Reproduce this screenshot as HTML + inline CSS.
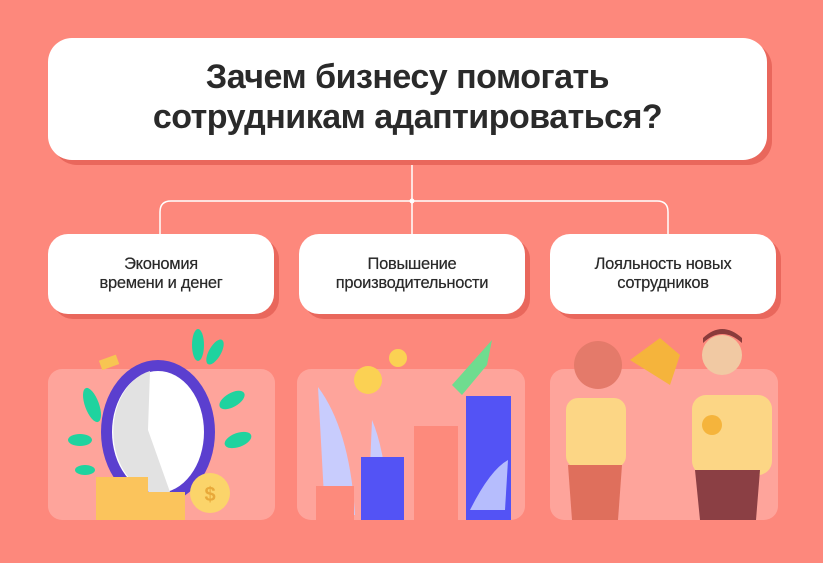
<!DOCTYPE html>
<html><head><meta charset="utf-8"><style>
body{margin:0;width:823px;height:563px;background:#fd887c;overflow:hidden;font-family:"Liberation Sans","DejaVu Sans",sans-serif;position:relative}
.box{position:absolute;background:#fff;box-shadow:5px 5px 0 #e9675c;display:flex;align-items:center;justify-content:center;text-align:center;color:#2a2a2a}
.t{left:48px;top:38px;width:719px;height:122px;border-radius:24px;font-size:34px;font-weight:bold;line-height:40px;letter-spacing:-0.5px;padding-bottom:4px;box-sizing:border-box}
.s{top:234px;height:80px;width:226px;border-radius:20px;font-size:16.5px;line-height:19px;letter-spacing:-0.3px;text-shadow:0 0 0.4px #2a2a2a}
.p{position:absolute;top:369px;height:151px;background:#fea49b;border-radius:14px}
</style></head><body>
<svg style="position:absolute;left:0;top:0" width="823" height="563">
<path d="M412 160V234M160 234V212Q160 201 171 201H657Q668 201 668 212V234" stroke="#fff" stroke-width="1.5" fill="none"/>
<circle cx="412" cy="201" r="2.5" fill="#fff"/>
</svg>
<div class="box t">Зачем бизнесу помогать<br>сотрудникам адаптироваться?</div>
<div class="box s" style="left:48px">Экономия<br>времени и денег</div>
<div class="box s" style="left:299px">Повышение<br>производительности</div>
<div class="box s" style="left:550px">Лояльность новых<br>сотрудников</div>
<div class="p" style="left:48px;width:227px"></div>
<div class="p" style="left:297px;width:228px"></div>
<div class="p" style="left:550px;width:228px"></div>
<svg style="position:absolute;left:0;top:0" width="823" height="563">
<!-- clock -->
<g fill="#1fd39f">
<ellipse cx="92" cy="405" rx="7" ry="18" transform="rotate(-20 92 405)"/>
<ellipse cx="80" cy="440" rx="12" ry="6"/>
<ellipse cx="85" cy="470" rx="10" ry="5"/>
<ellipse cx="198" cy="345" rx="6" ry="16"/>
<ellipse cx="215" cy="352" rx="6" ry="14" transform="rotate(30 215 352)"/>
<ellipse cx="232" cy="400" rx="14" ry="7" transform="rotate(-30 232 400)"/>
<ellipse cx="238" cy="440" rx="14" ry="7" transform="rotate(-20 238 440)"/>
</g>
<rect x="100" y="357" width="18" height="10" fill="#f7c552" transform="rotate(-20 110 362)"/>
<ellipse cx="158" cy="432" rx="57" ry="72" fill="#5b3fcf"/>
<ellipse cx="158" cy="432" rx="46" ry="61" fill="#fff"/>
<path d="M150 371A46 61 0 0 0 170 492L148 430Z" fill="#e2e2e2"/>
<rect x="96" y="477" width="52" height="43" fill="#fbc45c"/>
<rect x="145" y="492" width="40" height="28" fill="#fbc45c"/>
<circle cx="210" cy="493" r="20" fill="#fbd46a"/>
<text x="210" y="501" font-size="20" font-weight="bold" fill="#e8a93a" text-anchor="middle">$</text>
<!-- chart -->
<path d="M318 387Q350 430 355 515L325 515Z" fill="#c8ccfd"/>
<path d="M372 420Q385 450 390 515L368 515Z" fill="#c8ccfd"/>
<circle cx="368" cy="380" r="14" fill="#fbd153"/>
<circle cx="398" cy="358" r="9" fill="#fbd153"/>
<path d="M452 385L492 340L487 365L462 395Z" fill="#6fdc8f"/>
<rect x="316" y="486" width="38" height="34" fill="#fd8a7c"/>
<rect x="361" y="457" width="43" height="63" fill="#5353f5"/>
<rect x="414" y="426" width="44" height="94" fill="#fd8a7c"/>
<rect x="466" y="396" width="45" height="124" fill="#5353f5"/>
<path d="M470 510Q490 470 508 460L505 510Z" fill="#b6bdfd"/>
<!-- people -->
<circle cx="598" cy="365" r="24" fill="#e47a6a"/>
<rect x="566" y="398" width="60" height="70" rx="12" fill="#fcd685"/>
<path d="M568 465H622L618 520H572Z" fill="#df6f5c"/>
<path d="M630 360L660 338L680 355L670 385Z" fill="#f5b43c"/>
<circle cx="722" cy="355" r="20" fill="#f1c9a3"/>
<path d="M703 343Q722 325 742 343L742 338Q722 320 703 338Z" fill="#8a3b3b"/>
<rect x="692" y="395" width="80" height="80" rx="14" fill="#fcd685"/>
<path d="M695 470H760L756 520H700Z" fill="#8b3f44"/>
<circle cx="712" cy="425" r="10" fill="#f5b43c"/>
</svg>
</body></html>
